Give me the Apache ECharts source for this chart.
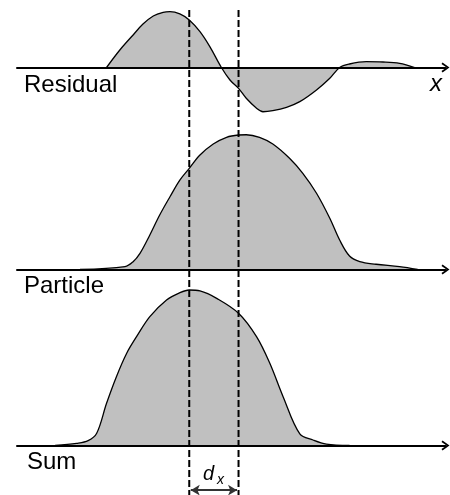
<!DOCTYPE html>
<html>
<head>
<meta charset="utf-8">
<script src="https://cdn.jsdelivr.net/npm/echarts@6/dist/echarts.min.js"></script>
<style>
  html, body { margin: 0; padding: 0; background: #fff; }
  #chart { width: 450px; height: 495px; }
</style>
</head>
<body>
<div id="chart"></div>
<script>
// Profiles along x (0..100) for the three panels; amplitudes share one scale.
const residualX = [20.9, 24.0, 27.1, 29.4, 31.8, 34.1, 35.7, 38.0, 40.2, 42.7, 45.0, 47.7, 49.7, 51.7, 53.5, 55.9, 57.4, 59.7, 62.9, 66.0, 69.9, 73.0, 75.3, 77.6, 81.5, 85.4, 89.3, 92.8];
const residualY = [0, 0.130, 0.242, 0.323, 0.383, 0.410, 0.415, 0.398, 0.353, 0.266, 0.155, 0, -0.093, -0.155, -0.229, -0.303, -0.329, -0.321, -0.296, -0.254, -0.167, -0.080, 0, 0.026, 0.043, 0.041, 0.031, 0];

const particleX = [14.7, 25.2, 27.1, 28.7, 31.0, 33.3, 35.7, 38.0, 40.2, 42.7, 45.8, 48.9, 51.7, 53.5, 56.6, 59.7, 63.6, 66.7, 69.9, 73.0, 75.3, 77.6, 80.0, 83.8, 89.3, 93.5];
const particleY = [0, 0.021, 0.058, 0.120, 0.257, 0.405, 0.541, 0.665, 0.752, 0.851, 0.933, 0.983, 1.0, 1.002, 0.983, 0.933, 0.827, 0.715, 0.567, 0.381, 0.219, 0.100, 0.058, 0.039, 0.021, 0];

const sumX = [8.9, 13.9, 16.6, 18.6, 20.9, 23.2, 25.6, 27.9, 31.0, 34.9, 38.0, 40.2, 42.7, 46.6, 51.7, 55.9, 59.0, 62.1, 66.0, 69.1, 72.2, 77.6];
const sumY = [0, 0.016, 0.036, 0.091, 0.314, 0.512, 0.686, 0.809, 0.958, 1.082, 1.136, 1.156, 1.149, 1.094, 0.983, 0.809, 0.611, 0.363, 0.086, 0.041, 0.011, 0];

// Particle position before/after the shift, and the shift itself.
const dashX = [40.2, 51.7];
const dxLevel = -0.332;

const panelNames = ['Residual', 'Particle', 'Sum'];

// Layout: pixels per amplitude unit, axis rows, and per-panel y ranges.
const PX = 134.5;
const LEFT = 17, RIGHT = 4.5;
const panels = [
  { axisY: 67.5, min: -0.42, max: 0.45 },
  { axisY: 269.5, min: 0, max: 1.05 },
  { axisY: 445.5, min: -0.36, max: 1.2 }
];

const ARROW = 'path://M0,8.2 L6,0 L12,8.2 L10.2,9.4 L6,3.4 L1.8,9.4 Z';
const FONT = '"Liberation Sans", Arial, sans-serif';

const pairs = (xs, ys) => xs.map((x, i) => [x, ys[i]]);

const grids = panels.map(p => ({
  left: LEFT, right: RIGHT,
  top: p.axisY - p.max * PX,
  height: (p.max - p.min) * PX
}));
// overlay grid for the dashed guides
grids.push({ left: LEFT, right: RIGHT, top: 10, bottom: 0 });

const xAxes = panels.map((p, i) => ({
  gridIndex: i, type: 'value', min: 0, max: 100, z: 4,
  axisLine: {
    show: true, onZero: true,
    lineStyle: { color: '#000', width: 2 },
    symbol: ['none', ARROW], symbolSize: [13, 8]
  },
  axisTick: { show: false }, axisLabel: { show: false }, splitLine: { show: false }
}));
xAxes.push({ gridIndex: 3, type: 'value', min: 0, max: 100, show: false });

const yAxes = panels.map((p, i) => ({
  gridIndex: i, type: 'value', min: p.min, max: p.max, show: false
}));
yAxes.push({ gridIndex: 3, type: 'value', min: 0, max: 1, show: false });

const curveStyle = {
  type: 'line', smooth: 0.35, symbol: 'none',
  lineStyle: { color: '#000', width: 1.3 },
  areaStyle: { color: '#c0c0c0', opacity: 1 },
  z: 2
};

const series = [
  Object.assign({}, curveStyle, { name: panelNames[0], xAxisIndex: 0, yAxisIndex: 0, data: pairs(residualX, residualY) }),
  Object.assign({}, curveStyle, { name: panelNames[1], xAxisIndex: 1, yAxisIndex: 1, data: pairs(particleX, particleY) }),
  Object.assign({}, curveStyle, {
    name: panelNames[2], xAxisIndex: 2, yAxisIndex: 2, data: pairs(sumX, sumY),
    markLine: {
      silent: true, symbol: ['arrow', 'arrow'], symbolSize: [8, 9],
      label: { show: false },
      lineStyle: { color: '#333', width: 2, type: 'solid' },
      data: [[{ coord: [dashX[0] + 0.35, dxLevel] }, { coord: [dashX[1] - 0.35, dxLevel] }]]
    }
  })
];
dashX.forEach(x => {
  series.push({
    type: 'line', xAxisIndex: 3, yAxisIndex: 3, symbol: 'none', silent: true,
    lineStyle: { color: '#000', width: 2, type: [7, 3] },
    data: [[x, 1], [x, 0]], z: 5
  });
});

const textStyle = (size, italic) => ({
  fill: '#000', fontSize: size, fontFamily: FONT,
  fontStyle: italic ? 'italic' : 'normal', lineHeight: size
});

const chart = echarts.init(document.getElementById('chart'), null, { renderer: 'canvas' });
chart.setOption({
  animation: false,
  backgroundColor: '#fff',
  grid: grids,
  xAxis: xAxes,
  yAxis: yAxes,
  series: series,
  graphic: [
    { type: 'text', left: 24, top: 73.7, style: Object.assign({ text: panelNames[0] }, textStyle(24)) },
    { type: 'text', left: 24, top: 274.7, style: Object.assign({ text: panelNames[1] }, textStyle(24)) },
    { type: 'text', left: 27, top: 450.7, style: Object.assign({ text: panelNames[2] }, textStyle(24)) },
    { type: 'text', left: 430, top: 72.7, style: Object.assign({ text: 'x' }, textStyle(24, true)) },
    { type: 'text', left: 203, top: 464.8, style: Object.assign({ text: 'd' }, textStyle(20, true)) },
    { type: 'text', left: 217, top: 473, style: Object.assign({ text: 'x' }, textStyle(14, true)) }
  ]
});
</script>
</body>
</html>
